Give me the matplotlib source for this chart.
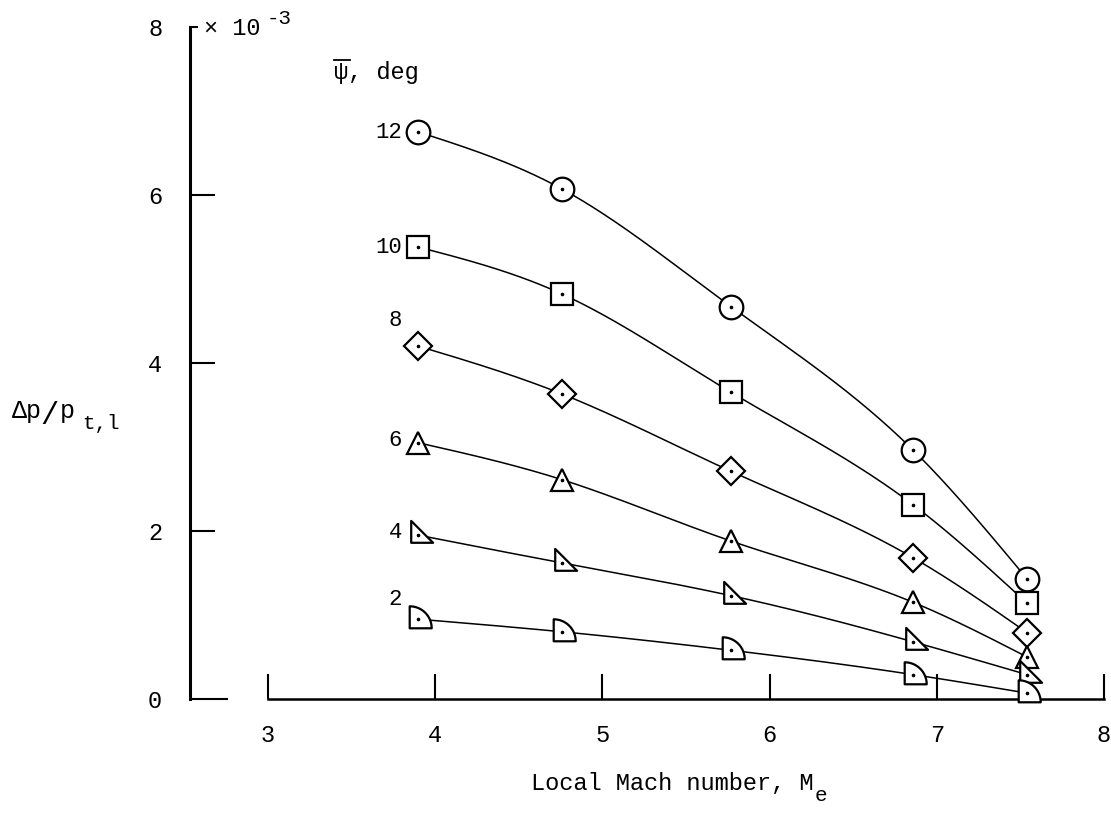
import numpy as np
import matplotlib
matplotlib.use("Agg")
import matplotlib.pyplot as plt
from matplotlib.path import Path

# ---------------- data ----------------
mach = [3.90, 4.76, 5.77, 6.86, 7.54]
psi_labels = ["12", "10", "8", "6", "4", "2"]
dp_12 = [6.75, 6.07, 4.67, 2.96, 1.43]
dp_10 = [5.38, 4.82, 3.65, 2.31, 1.14]
dp_8 = [4.20, 3.63, 2.71, 1.68, 0.79]
dp_6 = [3.05, 2.61, 1.88, 1.15, 0.50]
dp_4 = [1.95, 1.62, 1.23, 0.68, 0.29]
dp_2 = [0.95, 0.80, 0.58, 0.29, 0.07]
label_y = [6.75, 5.38, 4.51, 3.08, 1.98, 1.18]
x_ticks = [3, 4, 5, 6, 7, 8]
y_ticks = [0, 2, 4, 6, 8]

FONT = "Liberation Mono"
W, H = 1111, 814

def natural_spline(x, y, xs):
    x = np.asarray(x, float); y = np.asarray(y, float)
    n = len(x)
    h = np.diff(x)
    A = np.zeros((n, n)); b = np.zeros(n)
    A[0, 0] = 1; A[-1, -1] = 1
    for i in range(1, n - 1):
        A[i, i - 1] = h[i - 1]
        A[i, i] = 2 * (h[i - 1] + h[i])
        A[i, i + 1] = h[i]
        b[i] = 3 * ((y[i + 1] - y[i]) / h[i] - (y[i] - y[i - 1]) / h[i - 1])
    c = np.linalg.solve(A, b)
    ys = np.empty_like(xs)
    for j, xv in enumerate(xs):
        i = min(max(np.searchsorted(x, xv) - 1, 0), n - 2)
        dx = xv - x[i]
        bb = (y[i + 1] - y[i]) / h[i] - h[i] * (2 * c[i] + c[i + 1]) / 3
        d = (c[i + 1] - c[i]) / (3 * h[i])
        ys[j] = y[i] + bb * dx + c[i] * dx ** 2 + d * dx ** 3
    return ys

# custom markers
k = 0.40
rt_verts = np.array([[0, 0], [0, 1], [1, 0], [0, 0]], float) - 1/3
right_tri = Path(rt_verts, [Path.MOVETO, Path.LINETO, Path.LINETO, Path.CLOSEPOLY])
t = np.linspace(np.pi / 2, 0, 30)
q_verts = np.vstack([[0, 0], [0, 1], np.column_stack([np.cos(t), np.sin(t)])[1:], [0, 0]]) - k
q_codes = [Path.MOVETO] + [Path.LINETO] * (len(q_verts) - 2) + [Path.CLOSEPOLY]
quarter = Path(q_verts, q_codes)

series = [dp_12, dp_10, dp_8, dp_6, dp_4, dp_2]
markers = ["o", "s", "D", "^", right_tri, quarter]
msizes = [17, 16, 14.5, 15.5, 21, 19]

fig = plt.figure(figsize=(W / 100, H / 100), dpi=100)
px_per_x = (1104 - 268) / 5.0
xmin = 3 - (268 - 190) / px_per_x
xmax = 3 + (1110 - 268) / px_per_x
ax = fig.add_axes([190 / W, (H - 699) / H, (1110 - 190) / W, (699 - 27) / H])
ax.set_xlim(xmin, xmax)
ax.set_ylim(0, 8)

for sp in ["top", "right"]:
    ax.spines[sp].set_visible(False)
ax.spines["left"].set_linewidth(2.2)
ax.spines["bottom"].set_linewidth(1.8)
ax.spines["bottom"].set_bounds(3, 8)

ax.set_xticks(x_ticks)
ax.set_xticklabels([str(v) for v in x_ticks])
ax.set_yticks(y_ticks)
ax.set_yticklabels([str(v) for v in y_ticks])
ax.tick_params(axis="x", direction="in", length=18, width=1.5, pad=18,
               labelsize=17)
ax.tick_params(axis="y", direction="in", length=18, width=1.5, pad=20,
               labelsize=17)
for lab in ax.get_xticklabels() + ax.get_yticklabels():
    lab.set_fontfamily(FONT)
yt = ax.yaxis.get_major_ticks()
yt[0].tick1line.set_markersize(27)
yt[-1].tick1line.set_markersize(6)

xs = np.linspace(mach[0], mach[-1], 300)
for vals, mk, ms, lab, ly in zip(series, markers, msizes, psi_labels, label_y):
    ax.plot(xs, natural_spline(mach, vals, xs), color="black", lw=1.1, zorder=2,
            clip_on=False)
    ax.plot(mach, vals, linestyle="none", marker=mk, ms=ms, mfc="white",
            mec="black", mew=1.6, zorder=3, clip_on=False)
    ax.plot(mach, vals, linestyle="none", marker="o", ms=1.6, color="black",
            zorder=4, clip_on=False)
    ax.text(3.80, ly, lab, ha="right", va="center", fontsize=16,
            fontfamily=FONT)

def ftext(px, py, s, **kw):
    kw.setdefault("fontfamily", FONT)
    kw.setdefault("va", "baseline")
    fig.text(px / W, 1 - py / H, s, **kw)

# exponent
ftext(204, 35, "\u00d7 10", fontsize=17)
ftext(267, 24, "-3", fontsize=15)
# psi label
ftext(334, 79, "\u03c8, deg", fontsize=17)
fig.add_artist(plt.Line2D([334 / W, 350 / W], [1 - 60 / H, 1 - 60 / H],
                          color="black", lw=1.3, transform=fig.transFigure))
# y label
ftext(12, 418, "\u0394p", fontsize=18)
ftext(40, 424, "/", fontsize=22)
ftext(60, 418, "p", fontsize=18)
ftext(82, 429, "t,l", fontsize=15)
# x label
ftext(531, 790, "Local Mach number, M", fontsize=17)
ftext(815, 801, "e", fontsize=15)

fig.savefig("out.png", dpi=100)
